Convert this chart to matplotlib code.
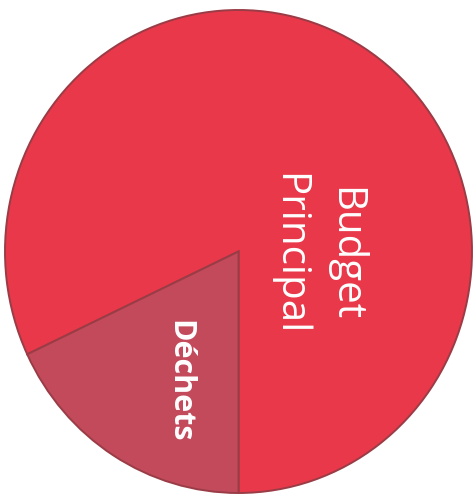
import matplotlib
matplotlib.use("Agg")
import matplotlib.pyplot as plt

categories = ["Budget Principal", "Déchets"]
values = [82, 18]
colors = ["#E8384A", "#C24A5B"]

fig = plt.figure(figsize=(4.77, 4.95), dpi=100)
ax = fig.add_axes([0, 0, 1, 1])
ax.pie(values, colors=colors, startangle=270, counterclock=True,
       wedgeprops=dict(edgecolor="#9A3C46", linewidth=1.4))
ax.set_aspect("auto")
ax.set_xlim(-1.0214, 1.0214)
ax.set_ylim(-1.0083, 1.0414)
ax.axis("off")

ax.text(0.336, -0.01, "Budget\nPrincipal", rotation=-90, color="white",
        fontsize=29, family="Open Sans", ha="center", va="center",
        multialignment="center", linespacing=1.5, rotation_mode="anchor")
ax.text(-0.255, -0.536, "Déchets", rotation=-90, color="white",
        fontsize=22, family="Open Sans", fontweight="bold",
        ha="center", va="center", rotation_mode="anchor")

fig.savefig("out.png", dpi=100)
